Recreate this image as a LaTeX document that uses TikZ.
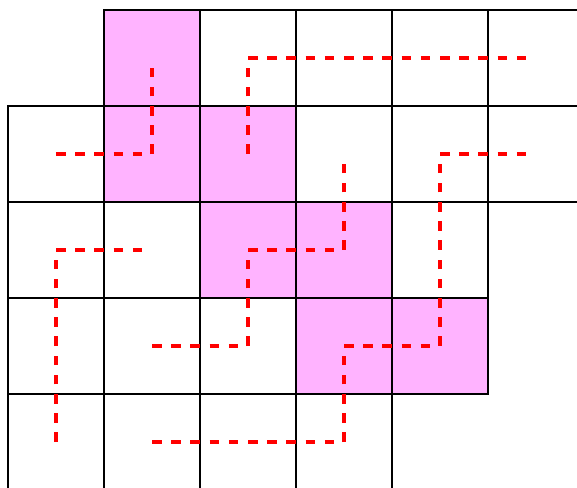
\documentclass[tikz,border=0pt]{standalone}
\usepackage{tikz}
\definecolor{cellpink}{RGB}{255,179,255}

\begin{document}
\begin{tikzpicture}[
    cell/.style={rectangle, draw, line width=0.5pt, minimum size=1cm, inner sep=0pt, outer sep=0pt},
    hit/.style={cell, fill=cellpink},
    route/.style={red, line width=0.9pt, dash pattern=on 0.1cm off 0.1cm}
]
\useasboundingbox (-0.0833,0.1042) rectangle (5.9271,-4.9688);
\clip (-0.0833,0.1042) rectangle (5.9271,-4.9688);
\foreach \r/\c in {0/1,1/1,1/2,2/2,2/3,3/3,3/4}
    \node[hit] (p\r\c) at (\c+0.5,-\r-0.5) {};
\foreach \c in {1,...,5} \node[cell] (c0\c) at (\c+0.5,-0.5) {};
\foreach \c in {0,...,5} \node[cell] (c1\c) at (\c+0.5,-1.5) {};
\foreach \c in {0,...,4} \node[cell] (c2\c) at (\c+0.5,-2.5) {};
\foreach \c in {0,...,4} \node[cell] (c3\c) at (\c+0.5,-3.5) {};
\foreach \c in {0,...,3} \node[cell] (c4\c) at (\c+0.5,-4.5) {};
\draw[route] (c10.center) -- (c11.center) -- (c01.center);
\draw[route] (c12.center) -- (c02.center) -- (c05.center);
\draw[route] (c31.center) -- (c32.center) -- (c22.center) -- (c23.center) -- (c13.center);
\draw[route] (c41.center) -- (c43.center) -- (c33.center) -- (c34.center) -- (c14.center) -- (c15.center);
\draw[route] (c40.center) -- (c20.center) -- (c21.center);
\end{tikzpicture}
\end{document}
